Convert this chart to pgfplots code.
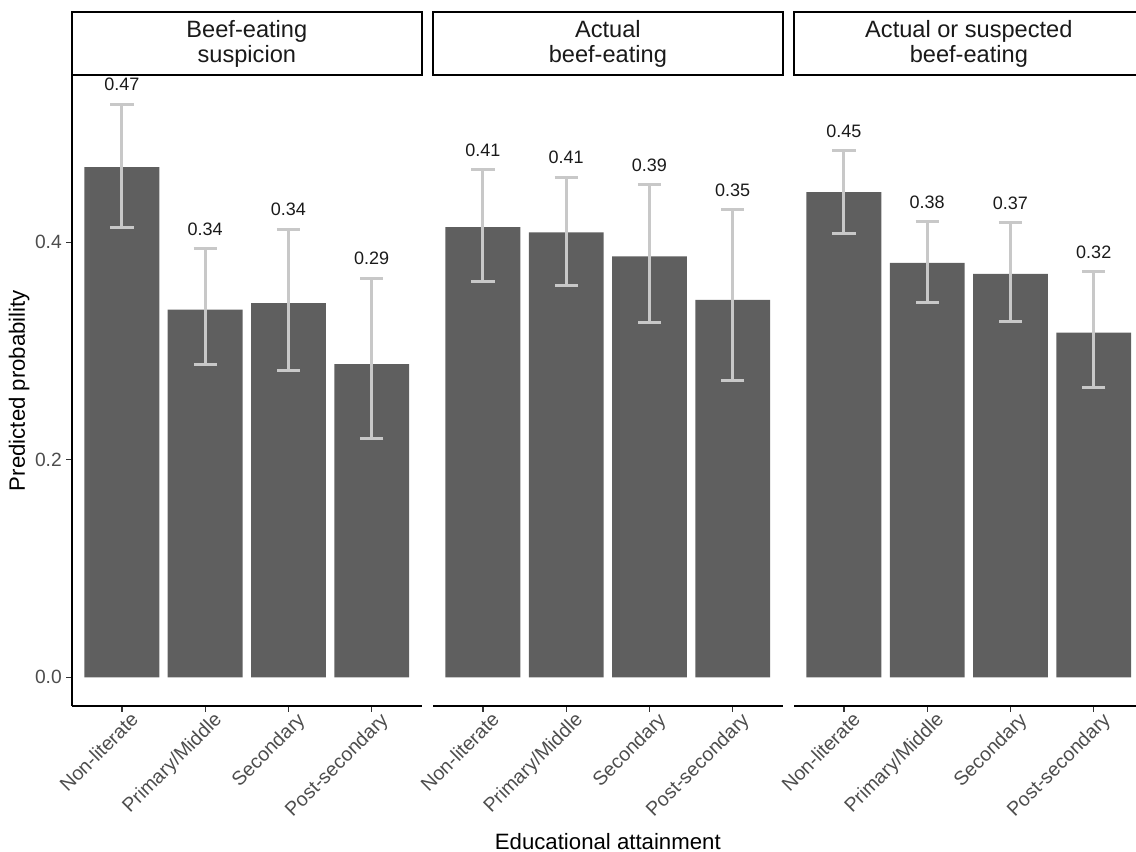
\documentclass[border=0pt]{standalone}
\usepackage{pgfplots}
\pgfplotsset{compat=1.18}
\usepackage{pgfplotstable}
\usepackage{fontspec}
\setmainfont{Liberation Sans}
\definecolor{barfill}{HTML}{5F5F5F}
\definecolor{errgray}{HTML}{C8C8C8}
\definecolor{ticklab}{HTML}{4D4D4D}
\definecolor{tickcol}{HTML}{333333}
\definecolor{striptext}{HTML}{1A1A1A}

% Beef-eating suspicion
\pgfplotstableread{
x val lo hi lbl
1 0.469 0.414 0.527 0.47
2 0.338 0.288 0.394 0.34
3 0.344 0.282 0.412 0.34
4 0.288 0.220 0.367 0.29
}\tabA
% Actual beef-eating
\pgfplotstableread{
x val lo hi lbl
1 0.414 0.364 0.467 0.41
2 0.409 0.360 0.460 0.41
3 0.387 0.326 0.453 0.39
4 0.347 0.273 0.430 0.35
}\tabB
% Actual or suspected beef-eating
\pgfplotstableread{
x val lo hi lbl
1 0.446 0.408 0.484 0.45
2 0.381 0.345 0.419 0.38
3 0.371 0.327 0.418 0.37
4 0.317 0.266 0.373 0.32
}\tabC

\pgfplotsset{
  panel/.style={
    scale only axis, width=174.85pt, height=315.5pt, anchor=south west,
    xmin=0.4, xmax=4.6, ymin=-0.0264, ymax=0.5538,
    xtick={1,2,3,4},
    xticklabels={Non-literate,Primary/Middle,Secondary,Post-secondary},
    axis x line*=bottom,
    tick align=outside, major tick length=2.75pt,
    every tick/.style={draw=tickcol, line width=0.55pt},
    axis line style={line width=0.55pt, draw=black, -},
    xticklabel style={xshift=3.7pt, yshift=0.5pt, rotate=45, anchor=north east, inner sep=0pt,
      font=\fontsize{9.8}{10}\selectfont, text=ticklab},
    yticklabel style={inner sep=0pt, xshift=-2.2pt, font=\fontsize{9.6}{10}\selectfont, text=ticklab},
    clip=false,
  },
  bars/.style={ybar, bar width=0.9, fill=barfill, draw=none,
    error bars/.cd, y dir=both, y explicit, error mark=|,
    error bar style={line width=1.5pt, errgray},
    error mark options={mark size=5.8pt, line width=1.5pt, errgray}},
  vals/.style={draw=none, mark=none, nodes near coords, point meta=explicit symbolic,
    every node near coord/.style={anchor=center, yshift=9.75pt,
      font=\fontsize{9}{10}\selectfont, text=striptext}},
}

\begin{document}
\begin{tikzpicture}
\useasboundingbox (0,0) rectangle (568pt,426pt);
\clip (0,0) rectangle (568pt,426pt);

\begin{axis}[panel, name=p1, at={(36pt,73pt)},
  axis y line*=left, ytick={0,0.2,0.4}, yticklabels={0.0,0.2,0.4}]
\addplot[bars] table[x=x, y=val, y error plus expr=\thisrow{hi}-\thisrow{val},
  y error minus expr=\thisrow{val}-\thisrow{lo}] {\tabA};
\addplot[vals] table[x=x, y=hi, meta=lbl] {\tabA};
\end{axis}

\begin{axis}[panel, name=p2, at={(216.5pt,73pt)},
  axis y line=none, ytick=\empty]
\addplot[bars] table[x=x, y=val, y error plus expr=\thisrow{hi}-\thisrow{val},
  y error minus expr=\thisrow{val}-\thisrow{lo}] {\tabB};
\addplot[vals] table[x=x, y=hi, meta=lbl] {\tabB};
\end{axis}

\begin{axis}[panel, name=p3, at={(397pt,73pt)},
  axis y line=none, ytick=\empty]
\addplot[bars] table[x=x, y=val, y error plus expr=\thisrow{hi}-\thisrow{val},
  y error minus expr=\thisrow{val}-\thisrow{lo}] {\tabC};
\addplot[vals] table[x=x, y=hi, meta=lbl] {\tabC};
\end{axis}

% facet strips
\foreach \p/\t in {p1/{Beef-eating\\suspicion}, p2/{Actual\\beef-eating}, p3/{Actual or suspected\\beef-eating}}{
  \draw[line width=1pt, draw=black, fill=white] (\p.north west) rectangle ([yshift=31.5pt]\p.north east);
  \node[align=center, inner sep=0pt, font=\fontsize{11.8}{12.5}\selectfont, text=striptext]
    at ([yshift=15.5pt]\p.north) {\t};
}

% axis titles
\node[rotate=90, anchor=base, font=\fontsize{11.1}{13}\selectfont] at (12.5pt,230.75pt) {Predicted probability};
\node[anchor=base, font=\fontsize{11.1}{13}\selectfont] at (303.9pt,1.35pt) {Educational attainment};
\end{tikzpicture}
\end{document}
